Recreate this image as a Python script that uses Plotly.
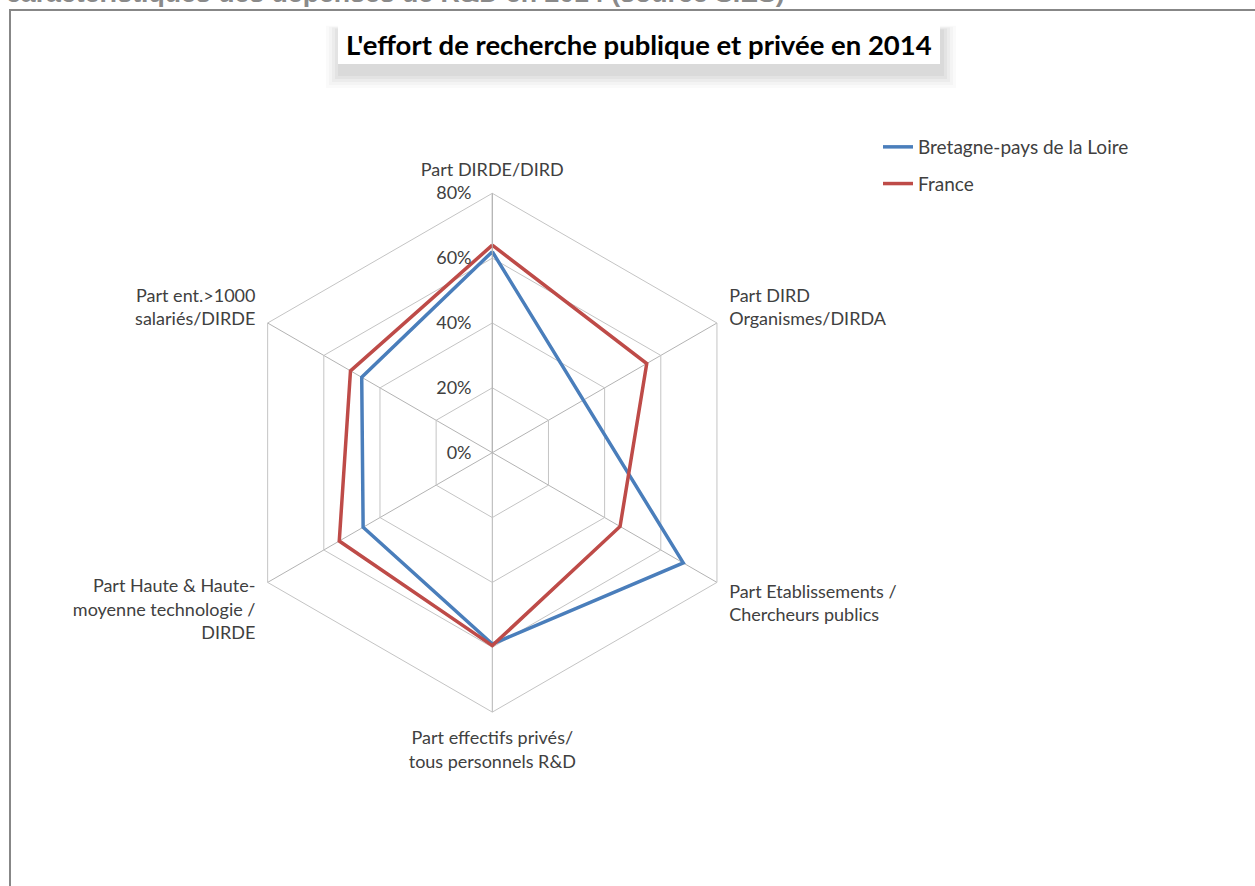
import plotly.graph_objects as go

W, H = 1255, 886

categories = [
    "Part DIRDE/DIRD",
    "Part DIRD<br>Organismes/DIRDA",
    "Part Etablissements /<br>Chercheurs publics",
    "Part effectifs privés/<br>tous personnels R&D",
    "Part Haute & Haute-<br>moyenne technologie /<br>DIRDE",
    "Part ent.>1000<br>salariés/DIRDE",
]
bretagne = [62, None, 68, 59, 46, 46.5]
france = [64, 55, 45.5, 59.5, 54.5, 50.5]
series_names = ["Bretagne-pays de la Loire", "France"]
colors = ["#4A7EBB", "#BE4B48"]
radial_ticks = [0, 20, 40, 60, 80]
radial_ticktext = ["0%", "20%", "40%", "60%", "80%"]


def px(x):
    return x / W


def py(y):
    return 1 - y / H


fig = go.Figure()
for name, vals, col in zip(series_names, [bretagne, france], colors):
    fig.add_trace(go.Scatterpolar(
        r=vals + [vals[0]],
        theta=categories + [categories[0]],
        mode="lines",
        name=name,
        legendgroup=name,
        connectgaps=True,
        line=dict(color=col, width=3.5),
    ))

cx, cy, R = 492.3, 452.7, 259.4
font_main = "Lato, 'Noto Sans', sans-serif"

shapes = []
# outer chart border (only top and left visible)
shapes.append(dict(type="rect", xref="paper", yref="paper",
                   x0=px(10), x1=1.2, y0=-0.2, y1=py(10),
                   line=dict(color="#878787", width=2), fillcolor="rgba(0,0,0,0)",
                   layer="above"))
# title box shadow
for i, a in enumerate([0.02, 0.025, 0.03, 0.035, 0.04]):
    g = 14 - i * 3
    shapes.append(dict(type="rect", xref="paper", yref="paper",
                       x0=px(338 - g + 2), x1=px(940 + g + 2),
                       y0=py(64 + g + 10), y1=py(22 - g * 0.3 + 8),
                       line=dict(width=0), fillcolor=f"rgba(0,0,0,{a})", layer="below"))
shapes.append(dict(type="rect", xref="paper", yref="paper",
                   x0=px(338), x1=px(940), y0=py(64), y1=py(22),
                   line=dict(width=0), fillcolor="white", layer="below"))

annotations = [
    dict(text="<b>L'effort de recherche publique et privée en 2014</b>",
         xref="paper", yref="paper", x=px(639), y=py(44),
         xanchor="center", yanchor="middle", showarrow=False,
         font=dict(family=font_main, size=27.5, color="black")),
    dict(text="<b>caractéristiques des dépenses de R&D en 2014 (source SIES)</b>",
         xref="paper", yref="paper", x=px(4), y=py(10),
         xanchor="left", yanchor="bottom", showarrow=False,
         font=dict(family="Liberation Sans, Arial, sans-serif", size=26.7, color="#8a8a8a")),
]

fig.update_layout(
    width=W, height=H,
    margin=dict(l=0, r=0, t=0, b=0),
    paper_bgcolor="white",
    plot_bgcolor="white",
    shapes=shapes,
    annotations=annotations,
    showlegend=True,
    legend=dict(x=px(878), y=py(128), xanchor="left", yanchor="top",
                font=dict(family=font_main, size=19, color="#404040"),
                tracegroupgap=9, bgcolor="rgba(0,0,0,0)"),
    polar=dict(
        domain=dict(x=[px(cx - R), px(cx + R)], y=[py(cy + R), py(cy - R)]),
        bgcolor="white",
        gridshape="linear",
        radialaxis=dict(
            range=[0, 80], tickvals=radial_ticks, ticktext=radial_ticktext,
            angle=90, side="counterclockwise", tickangle=90,
            showline=True, linecolor="#b3b3b3", linewidth=1,
            gridcolor="#c4c4c4", gridwidth=1,
            ticks="outside", ticklen=14, tickcolor="rgba(0,0,0,0)",
            tickfont=dict(family=font_main, size=18, color="#404040"),
        ),
        angularaxis=dict(
            direction="clockwise", rotation=90,
            showline=True, linecolor="#c4c4c4", linewidth=1,
            gridcolor="#b3b3b3", gridwidth=1,
            ticks="outside", ticklen=10, tickcolor="rgba(0,0,0,0)",
            tickfont=dict(family=font_main, size=18, color="#404040"),
        ),
    ),
)

fig.write_html("out.html", config={"displayModeBar": False},
               post_script="document.body.style.margin='0';")
